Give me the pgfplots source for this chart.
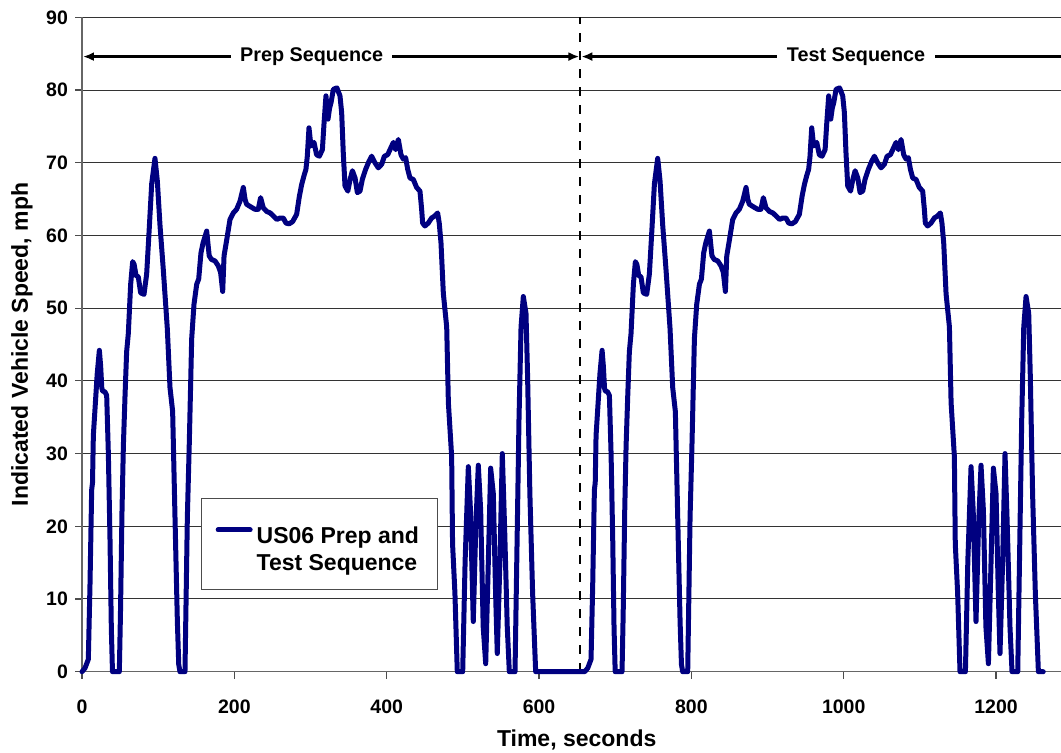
\documentclass[border=0pt]{standalone}
\usepackage{pgfplots}
\pgfplotsset{compat=1.18}
\usepackage{fontspec}
\setmainfont{Liberation Sans}
\usetikzlibrary{arrows.meta}
\definecolor{trace}{RGB}{0,0,128}
\begin{document}
\begin{tikzpicture}
\useasboundingbox (0,0) rectangle (530.5pt,376pt);
\begin{axis}[
 at={(41pt,40.15pt)}, anchor=south west,
 scale only axis, width=489.5pt, height=327.2pt,
 xmin=0, xmax=1285.3, ymin=0, ymax=90,
 axis x line=bottom, axis y line=left,
 axis line style={-, black!60, line width=0.6pt},
 xtick={0,200,...,1200}, ytick={0,10,...,90},
 ymajorgrids, grid style={black!80, line width=0.5pt},
 tick align=outside, major tick length=3.5pt,
 tick style={black!70, line width=0.6pt},
 ticklabel style={font=\bfseries\fontsize{9.75}{11}\selectfont},
 xticklabel style={yshift=-7pt},
 /pgf/number format/assume math mode=true,
 /pgf/number format/1000 sep={},
 xlabel={Time, seconds},
 ylabel={Indicated Vehicle Speed, mph},
 label style={font=\bfseries\fontsize{11.5}{13}\selectfont},
 xlabel style={at={(axis description cs:0.5053,-0.1146)}, anchor=base},
 ylabel style={at={(axis description cs:-0.0613,0.5)}, anchor=center},
 clip=false,
 legend cell align=left,
 legend style={at={(axis cs:155.8,11.24)}, anchor=south west, draw=black!70, line width=0.5pt,
   font=\bfseries\fontsize{11.5}{13.3}\selectfont, inner xsep=7.25pt, inner ysep=11pt},
 legend image code/.code={\path[draw=none,fill=none] (0pt,-9.4pt) rectangle (16pt,9.4pt); \draw[#1, line width=2.5pt] (0pt,7.1pt) -- (16pt,7.1pt);},
]
\draw[black, line width=1.25pt, dash pattern=on 4.5pt off 4.5pt] (axis cs:654,0) -- (axis cs:654,90);
\addplot[trace, line width=2.5pt, line join=round, line cap=round] coordinates {
(0,0) (4,0.5) (8.3,1.7) (10.5,12) (12.7,25) (13.8,26) (14.9,32.5) (17,36) (20,41) (22.8,44.2)
(24.5,42) (26,39) (27.1,38.6) (30,38.5) (32.4,38) (34.6,30) (36.8,18) (38.5,6) (40,0) (49,0)
(50.5,8) (52.5,22) (54.3,31) (56.5,38) (58.6,44) (60.8,46.5) (63.9,53.3) (66.5,56.4) (68.5,56) (70.9,54.5)
(73.9,54.3) (77,52.1) (81.4,51.9) (84.9,54.7) (88,60.4) (91.5,67.1) (95.8,70.6) (98.9,67.5) (102.4,61.4) (106.8,55.2)
(112,47.2) (115.5,39.1) (119,35.8) (122.1,21.2) (125.2,6.9) (127,1) (128.6,0) (135.2,0) (138.3,21.2) (140.9,31.6)
(144,45.8) (147,50.5) (150.6,53.3) (153.2,54) (156.2,57.6) (159,59) (163.7,60.6) (167,57.2) (170,56.7) (174.6,56.5)
(179,55.8) (182,54.9) (184.7,52.3) (186.5,57.2) (190,59.4)
(194.3,62.2) (198.7,63.1) (203,63.6) (207.4,64.7) (211.8,66.6) (214,65) (216,64.3) (220.5,64) (227,63.6) (231.4,63.6)
(234.5,65.2) (238,63.8) (242.5,63.3) (247,63.1) (251,62.7) (255.8,62.2) (260,62.4) (264.3,62.4) (267.8,61.7) (272,61.6)
(276.5,61.9) (281.8,62.9) (285.4,65.4) (288.4,67) (291.4,68.2) (294,69.1) (295.8,70.9) (298,74.8) (300.6,72.3) (304.6,72.8)
(308,71.1) (311.6,70.9) (315.6,71.8) (317.8,75.5) (320.3,79.2) (323,76) (325,77.5) (327,78.3) (330,80.1) (334.6,80.3)
(338.7,79.2) (340.9,76.9) (343,71.4) (345.3,66.8) (349,66.1) (352,67.7) (355,68.9) (358.5,67.9) (361.5,65.9) (365,66.1)
(368,67.7) (372.4,69.1) (376.8,70.2) (380.3,70.9) (384.6,70) (389,69.3) (393.5,69.8) (397,70.9) (401.3,71.1) (405.7,72.1)
(408.8,72.8) (411.8,71.8) (415.3,73.2) (418.8,71.1) (421.8,70.5) (424.9,70.7) (427.6,69.1) (430.6,67.9) (435,67.7) (439.3,66.6)
(443.7,66.1) (445.9,63.6) (447.2,61.7) (450.2,61.3) (454.6,61.7) (459,62.4) (463.4,62.7) (466.9,63.1) (469,61.7) (471.3,59)
(474.4,52) (478.8,47.4) (481,37) (485.3,29.6) (486.5,17.6) (489.6,10.8) (492.7,0) (499.8,0) (503,15.3) (507.2,28.2)
(510,22.2) (513.7,6.9) (517,19.9) (520.3,28.4) (523.4,22.2) (526.7,6.2) (530,1.1) (533.5,15.3) (536.5,28) (540,24.5)
(543,10.8) (545.2,2.5) (548.7,15.3) (551.8,30) (554.8,19.9) (558.3,6.2) (561,0) (568.5,0) (571.5,19.9) (573.7,34.6)
(576.4,47.4) (579.4,51.6) (582.9,49.3) (585,40.6) (588,24.5) (591.6,10.8) (595.6,0)
(660,0) (664,0.5) (668.3,1.7) (670.5,12) (672.7,25) (673.8,26) (674.9,32.5) (677,36) (680,41) (682.8,44.2)
(684.5,42) (686,39) (687.1,38.6) (690,38.5) (692.4,38) (694.6,30) (696.8,18) (698.5,6) (700,0) (709,0)
(710.5,8) (712.5,22) (714.3,31) (716.5,38) (718.6,44) (720.8,46.5) (723.9,53.3) (726.5,56.4) (728.5,56) (730.9,54.5)
(733.9,54.3) (737,52.1) (741.4,51.9) (744.9,54.7) (748,60.4) (751.5,67.1) (755.8,70.6) (758.9,67.5) (762.4,61.4) (766.8,55.2)
(772,47.2) (775.5,39.1) (779,35.8) (782.1,21.2) (785.2,6.9) (787,1) (788.6,0) (795.2,0) (798.3,21.2) (800.9,31.6)
(804,45.8) (807,50.5) (810.6,53.3) (813.2,54) (816.2,57.6) (819,59) (823.7,60.6) (827,57.2) (830,56.7) (834.6,56.5)
(839,55.8) (842,54.9) (844.7,52.3) (846.5,57.2) (850,59.4)
(854.3,62.2) (858.7,63.1) (863,63.6) (867.4,64.7) (871.8,66.6) (874,65) (876,64.3) (880.5,64) (887,63.6) (891.4,63.6)
(894.5,65.2) (898,63.8) (902.5,63.3) (907,63.1) (911,62.7) (915.8,62.2) (920,62.4) (924.3,62.4) (927.8,61.7) (932,61.6)
(936.5,61.9) (941.8,62.9) (945.4,65.4) (948.4,67) (951.4,68.2) (954,69.1) (955.8,70.9) (958,74.8) (960.6,72.3) (964.6,72.8)
(968,71.1) (971.6,70.9) (975.6,71.8) (977.8,75.5) (980.3,79.2) (983,76) (985,77.5) (987,78.3) (990,80.1) (994.6,80.3)
(998.7,79.2) (1000.9,76.9) (1003,71.4) (1005.3,66.8) (1009,66.1) (1012,67.7) (1015,68.9) (1018.5,67.9) (1021.5,65.9) (1025,66.1)
(1028,67.7) (1032.4,69.1) (1036.8,70.2) (1040.3,70.9) (1044.6,70) (1049,69.3) (1053.5,69.8) (1057,70.9) (1061.3,71.1) (1065.7,72.1)
(1068.8,72.8) (1071.8,71.8) (1075.3,73.2) (1078.8,71.1) (1081.8,70.5) (1084.9,70.7) (1087.6,69.1) (1090.6,67.9) (1095,67.7) (1099.3,66.6)
(1103.7,66.1) (1105.9,63.6) (1107.2,61.7) (1110.2,61.3) (1114.6,61.7) (1119,62.4) (1123.4,62.7) (1126.9,63.1) (1129,61.7) (1131.3,59)
(1134.4,52) (1138.8,47.4) (1141,37) (1145.3,29.6) (1146.5,17.6) (1149.6,10.8) (1152.7,0) (1159.8,0) (1163,15.3) (1167.2,28.2)
(1170,22.2) (1173.7,6.9) (1177,19.9) (1180.3,28.4) (1183.4,22.2) (1186.7,6.2) (1190,1.1) (1193.5,15.3) (1196.5,28) (1200,24.5)
(1203,10.8) (1205.2,2.5) (1208.7,15.3) (1211.8,30) (1214.8,19.9) (1218.3,6.2) (1221,0) (1228.5,0) (1231.5,19.9) (1233.7,34.6)
(1236.4,47.4) (1239.4,51.6) (1242.9,49.3) (1245,40.6) (1248,24.5) (1251.6,10.8) (1255.6,0) (1262,0)
};
\addlegendentry{\begin{tabular}{@{}l@{}}US06 Prep and\\Test Sequence\rule[-7pt]{0pt}{7pt}\end{tabular}}
\draw[{Latex[length=5.5pt,width=4.5pt]}-{Latex[length=5.5pt,width=4.5pt]}, line width=1.1pt] (axis cs:1.3,84.6) -- (axis cs:653,84.6);
\draw[{Latex[length=5.5pt,width=4.5pt]}-, line width=1.1pt] (axis cs:655.5,84.6) -- (axis cs:1285.3,84.6);
\node[fill=white, inner xsep=4.5pt, inner ysep=1pt, font=\bfseries\fontsize{9.9}{11}\selectfont] at (axis cs:301.5,84.6) {Prep Sequence};
\node[fill=white, inner xsep=5pt, inner ysep=1pt, font=\bfseries\fontsize{9.9}{11}\selectfont] at (axis cs:1016.3,84.6) {Test Sequence};
\end{axis}
\end{tikzpicture}
\end{document}
